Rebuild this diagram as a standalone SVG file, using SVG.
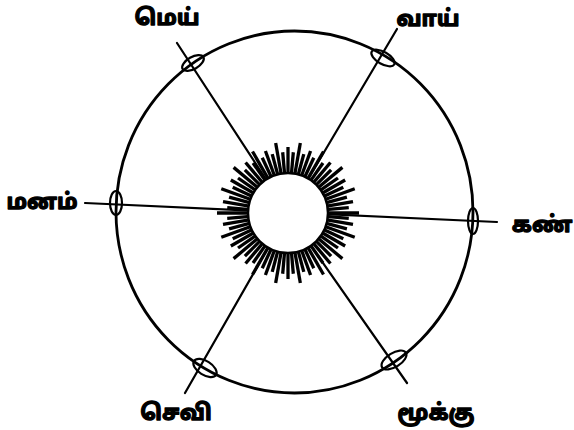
<svg xmlns="http://www.w3.org/2000/svg" width="574" height="430" viewBox="0 0 574 430">
<style>
.ln{stroke:#000;stroke-width:2.2;fill:none;stroke-linecap:round}
.oc{stroke:#000;stroke-width:2.8;fill:none}
.el{stroke:#000;stroke-width:2.2;fill:none}
.ray{stroke:#000;stroke-width:3.3}
.lb{font-family:"Noto Sans Tamil","Lato","DejaVu Sans",sans-serif;font-weight:bold;font-size:22px;fill:#000;stroke:#000;stroke-width:1.3;stroke-linejoin:round}
</style>
<defs>
<line id="rA" class="ray" x1="38" y1="0" x2="71" y2="0"/>
<line id="rB" class="ray" x1="38" y1="0" x2="61" y2="0"/>
<line id="rC" class="ray" x1="38" y1="0" x2="66" y2="0"/>
</defs>
<rect width="574" height="430" fill="#fff"/>
<g id="connectors">
<line class="ln" x1="177" y1="43" x2="288" y2="213"/>
<line class="ln" x1="397" y1="29" x2="288" y2="213"/>
<line class="ln" x1="85" y1="203" x2="497" y2="222"/>
<line class="ln" x1="185" y1="393" x2="288" y2="213"/>
<line class="ln" x1="407" y1="383" x2="288" y2="213"/>
</g>
<g id="outer">
<ellipse class="oc" cx="294.5" cy="212" rx="178.5" ry="181"/>
<ellipse class="el" cx="193" cy="63" rx="12" ry="6" transform="rotate(-30 193 63)"/>
<ellipse class="el" cx="383" cy="58" rx="13" ry="6" transform="rotate(30 383 58)"/>
<ellipse class="el" cx="116" cy="203" rx="6" ry="12"/>
<ellipse class="el" cx="473" cy="221" rx="5" ry="13"/>
<ellipse class="el" cx="205" cy="368" rx="13" ry="7" transform="rotate(32 205 368)"/>
<ellipse class="el" cx="394" cy="360" rx="14" ry="7" transform="rotate(-32 394 360)"/>
</g>
<g id="center">
<g transform="translate(288,213)">
<use href="#rA" transform="rotate(0)"/><use href="#rB" transform="rotate(5)"/><use href="#rC" transform="rotate(10)"/><use href="#rB" transform="rotate(15)"/>
<use href="#rA" transform="rotate(20)"/><use href="#rB" transform="rotate(25)"/><use href="#rC" transform="rotate(30)"/><use href="#rB" transform="rotate(35)"/>
<use href="#rA" transform="rotate(40)"/><use href="#rB" transform="rotate(45)"/><use href="#rC" transform="rotate(50)"/><use href="#rB" transform="rotate(55)"/>
<use href="#rA" transform="rotate(60)"/><use href="#rB" transform="rotate(65)"/><use href="#rC" transform="rotate(70)"/><use href="#rB" transform="rotate(75)"/>
<use href="#rA" transform="rotate(80)"/><use href="#rB" transform="rotate(85)"/><use href="#rC" transform="rotate(90)"/><use href="#rB" transform="rotate(95)"/>
<use href="#rA" transform="rotate(100)"/><use href="#rB" transform="rotate(105)"/><use href="#rC" transform="rotate(110)"/><use href="#rB" transform="rotate(115)"/>
<use href="#rA" transform="rotate(120)"/><use href="#rB" transform="rotate(125)"/><use href="#rC" transform="rotate(130)"/><use href="#rB" transform="rotate(135)"/>
<use href="#rA" transform="rotate(140)"/><use href="#rB" transform="rotate(145)"/><use href="#rC" transform="rotate(150)"/><use href="#rB" transform="rotate(155)"/>
<use href="#rA" transform="rotate(160)"/><use href="#rB" transform="rotate(165)"/><use href="#rC" transform="rotate(170)"/><use href="#rB" transform="rotate(175)"/>
<use href="#rA" transform="rotate(180)"/><use href="#rB" transform="rotate(185)"/><use href="#rC" transform="rotate(190)"/><use href="#rB" transform="rotate(195)"/>
<use href="#rA" transform="rotate(200)"/><use href="#rB" transform="rotate(205)"/><use href="#rC" transform="rotate(210)"/><use href="#rB" transform="rotate(215)"/>
<use href="#rA" transform="rotate(220)"/><use href="#rB" transform="rotate(225)"/><use href="#rC" transform="rotate(230)"/><use href="#rB" transform="rotate(235)"/>
<use href="#rA" transform="rotate(240)"/><use href="#rB" transform="rotate(245)"/><use href="#rC" transform="rotate(250)"/><use href="#rB" transform="rotate(255)"/>
<use href="#rA" transform="rotate(260)"/><use href="#rB" transform="rotate(265)"/><use href="#rC" transform="rotate(270)"/><use href="#rB" transform="rotate(275)"/>
<use href="#rA" transform="rotate(280)"/><use href="#rB" transform="rotate(285)"/><use href="#rC" transform="rotate(290)"/><use href="#rB" transform="rotate(295)"/>
<use href="#rA" transform="rotate(300)"/><use href="#rB" transform="rotate(305)"/><use href="#rC" transform="rotate(310)"/><use href="#rB" transform="rotate(315)"/>
<use href="#rA" transform="rotate(320)"/><use href="#rB" transform="rotate(325)"/><use href="#rC" transform="rotate(330)"/><use href="#rB" transform="rotate(335)"/>
<use href="#rA" transform="rotate(340)"/><use href="#rB" transform="rotate(345)"/><use href="#rC" transform="rotate(350)"/><use href="#rB" transform="rotate(355)"/>
<circle cx="0" cy="0" r="40" fill="#fff" stroke="#000" stroke-width="2.5"/>
</g>
</g>
<g id="mei"><text class="lb" x="167" y="25" text-anchor="middle">மெய்</text></g>
<g id="vaai"><text class="lb" x="428" y="26" text-anchor="middle">வாய்</text></g>
<g id="manam"><text class="lb" x="42" y="209" text-anchor="middle">மனம்</text></g>
<g id="kan"><text class="lb" x="542" y="232" text-anchor="middle">கண்</text></g>
<g id="sevi"><text class="lb" x="176" y="420" text-anchor="middle">செவி</text></g>
<g id="mookku"><text class="lb" x="436" y="420" text-anchor="middle">மூக்கு</text></g>
</svg>
